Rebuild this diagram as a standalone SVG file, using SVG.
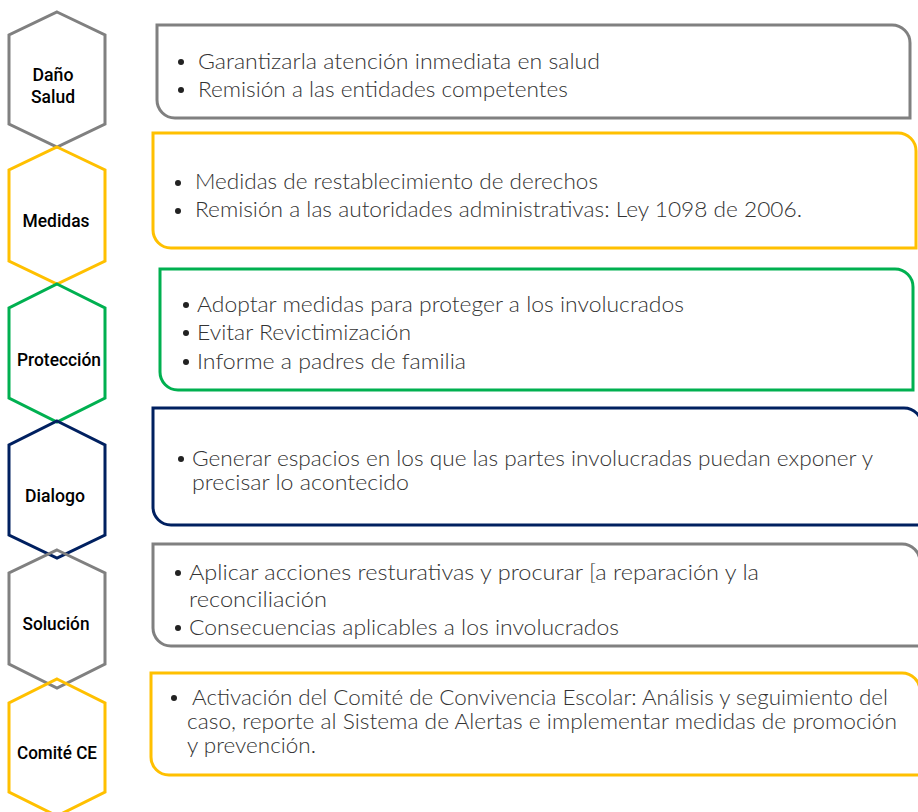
<svg xmlns="http://www.w3.org/2000/svg" width="918" height="812" viewBox="0 0 918 812">
<style>
.hex{fill:none;stroke-width:3;stroke-linejoin:miter}
.box{fill:#ffffff;stroke-width:3}
.gray{stroke:#808080}.yel{stroke:#FFC000}.grn{stroke:#00B050}.navy{stroke:#002060}
.lbl{font-family:Roboto,"Liberation Sans",sans-serif;font-weight:500;font-size:18px;fill:#000;text-anchor:middle}
.txt{font-family:Lato,"Liberation Sans",sans-serif;font-weight:300;font-size:21px;fill:#333333}
.dot{fill:#222}
</style>
<rect width="918" height="812" fill="#ffffff"/>
<g id="boxes">
<g id="box-dano"><path class="box gray" d="M157,25 H892 A18,18 0 0 1 910,43 V118 H175 A18,18 0 0 1 157,100 Z"/>
<circle class="dot" cx="181" cy="62" r="3"/><circle class="dot" cx="181" cy="90" r="3"/>
<text class="txt" x="198" y="69" textLength="402" lengthAdjust="spacingAndGlyphs">Garantizarla atención inmediata en salud</text>
<text class="txt" x="198" y="97" textLength="370" lengthAdjust="spacingAndGlyphs">Remisión a las entidades competentes</text></g>
<g id="box-medidas"><path class="box yel" d="M153,133 H898 A18,18 0 0 1 916,151 V248 H171 A18,18 0 0 1 153,230 Z"/>
<circle class="dot" cx="178" cy="183" r="3"/><circle class="dot" cx="178" cy="211" r="3"/>
<text class="txt" x="195" y="189" textLength="403" lengthAdjust="spacingAndGlyphs">Medidas de restablecimiento de derechos</text>
<text class="txt" x="195" y="217" textLength="607" lengthAdjust="spacingAndGlyphs">Remisión a las autoridades administrativas: Ley 1098 de 2006.</text></g>
<g id="box-proteccion"><path class="box grn" d="M160,269 H895 A18,18 0 0 1 913,287 V390 H178 A18,18 0 0 1 160,372 Z"/>
<circle class="dot" cx="186" cy="305" r="3"/><circle class="dot" cx="186" cy="333" r="3"/><circle class="dot" cx="186" cy="362" r="3"/>
<text class="txt" x="197" y="312" textLength="487" lengthAdjust="spacingAndGlyphs">Adoptar medidas para proteger a los involucrados</text>
<text class="txt" x="197" y="340" textLength="214" lengthAdjust="spacingAndGlyphs">Evitar Revictimización</text>
<text class="txt" x="197" y="369" textLength="269" lengthAdjust="spacingAndGlyphs">Informe a padres de familia</text></g>
<g id="box-dialogo"><path class="box navy" d="M153,408 H904 A18,18 0 0 1 922,426 V525 H171 A18,18 0 0 1 153,507 Z"/>
<circle class="dot" cx="181" cy="459" r="3"/>
<text class="txt" x="192" y="466" textLength="681" lengthAdjust="spacingAndGlyphs">Generar espacios en los que las partes involucradas puedan exponer y</text>
<text class="txt" x="192" y="490" textLength="217" lengthAdjust="spacingAndGlyphs">precisar lo acontecido</text></g>
<g id="box-solucion"><path class="box gray" d="M153,544 H902 A18,18 0 0 1 920,562 V646 H171 A18,18 0 0 1 153,628 Z"/>
<circle class="dot" cx="178" cy="573" r="3"/><circle class="dot" cx="178" cy="628" r="3"/>
<text class="txt" x="189" y="580" textLength="570" lengthAdjust="spacingAndGlyphs">Aplicar acciones resturativas y procurar [a reparación y la</text>
<text class="txt" x="189" y="607" textLength="138" lengthAdjust="spacingAndGlyphs">reconciliación</text>
<text class="txt" x="189" y="635" textLength="430" lengthAdjust="spacingAndGlyphs">Consecuencias aplicables a los involucrados</text></g>
<g id="box-comite"><path class="box yel" d="M151,673 H902 A18,18 0 0 1 920,691 V775 H169 A18,18 0 0 1 151,757 Z"/>
<circle class="dot" cx="174" cy="698" r="3"/>
<text class="txt" x="192" y="705" textLength="696" lengthAdjust="spacingAndGlyphs">Activación del Comité de Convivencia Escolar: Análisis y seguimiento del</text>
<text class="txt" x="187" y="729" textLength="710" lengthAdjust="spacingAndGlyphs">caso, reporte al Sistema de Alertas e implementar medidas de promoción</text>
<text class="txt" x="187" y="753" textLength="129" lengthAdjust="spacingAndGlyphs">y prevención.</text></g>
</g>
<g id="hex-dano"><polygon class="hex gray" points="57,12 105,35 105,124 57,147 9,124 9,35"/>
<text class="lbl" x="53" y="81" textLength="41" lengthAdjust="spacingAndGlyphs">Daño</text><text class="lbl" x="53" y="103" textLength="44" lengthAdjust="spacingAndGlyphs">Salud</text></g>
<g id="hex-medidas"><polygon class="hex yel" points="57,147 105,170 105,261 57,284 9,261 9,170"/>
<text class="lbl" x="56" y="227" textLength="67" lengthAdjust="spacingAndGlyphs">Medidas</text></g>
<g id="hex-proteccion"><polygon class="hex grn" points="57,284 105,308 105,398 57,422 9,398 9,308"/>
<text class="lbl" x="59" y="366" textLength="84" lengthAdjust="spacingAndGlyphs">Protección</text></g>
<g id="hex-dialogo"><polygon class="hex navy" points="57,421 105,445 105,535 57,558 9,535 9,445"/>
<text class="lbl" x="55" y="502" textLength="60" lengthAdjust="spacingAndGlyphs">Dialogo</text></g>
<g id="hex-solucion"><polygon class="hex gray" points="57,550 105,573 105,664 57,688 9,664 9,573"/>
<text class="lbl" x="56" y="630" textLength="67" lengthAdjust="spacingAndGlyphs">Solución</text></g>
<g id="hex-comite"><polygon class="hex yel" points="57,679 105,703 105,792 57,816 9,792 9,703"/>
<text class="lbl" x="57" y="759" textLength="80" lengthAdjust="spacingAndGlyphs">Comité CE</text></g>
<g id="connectors"></g>
</svg>
